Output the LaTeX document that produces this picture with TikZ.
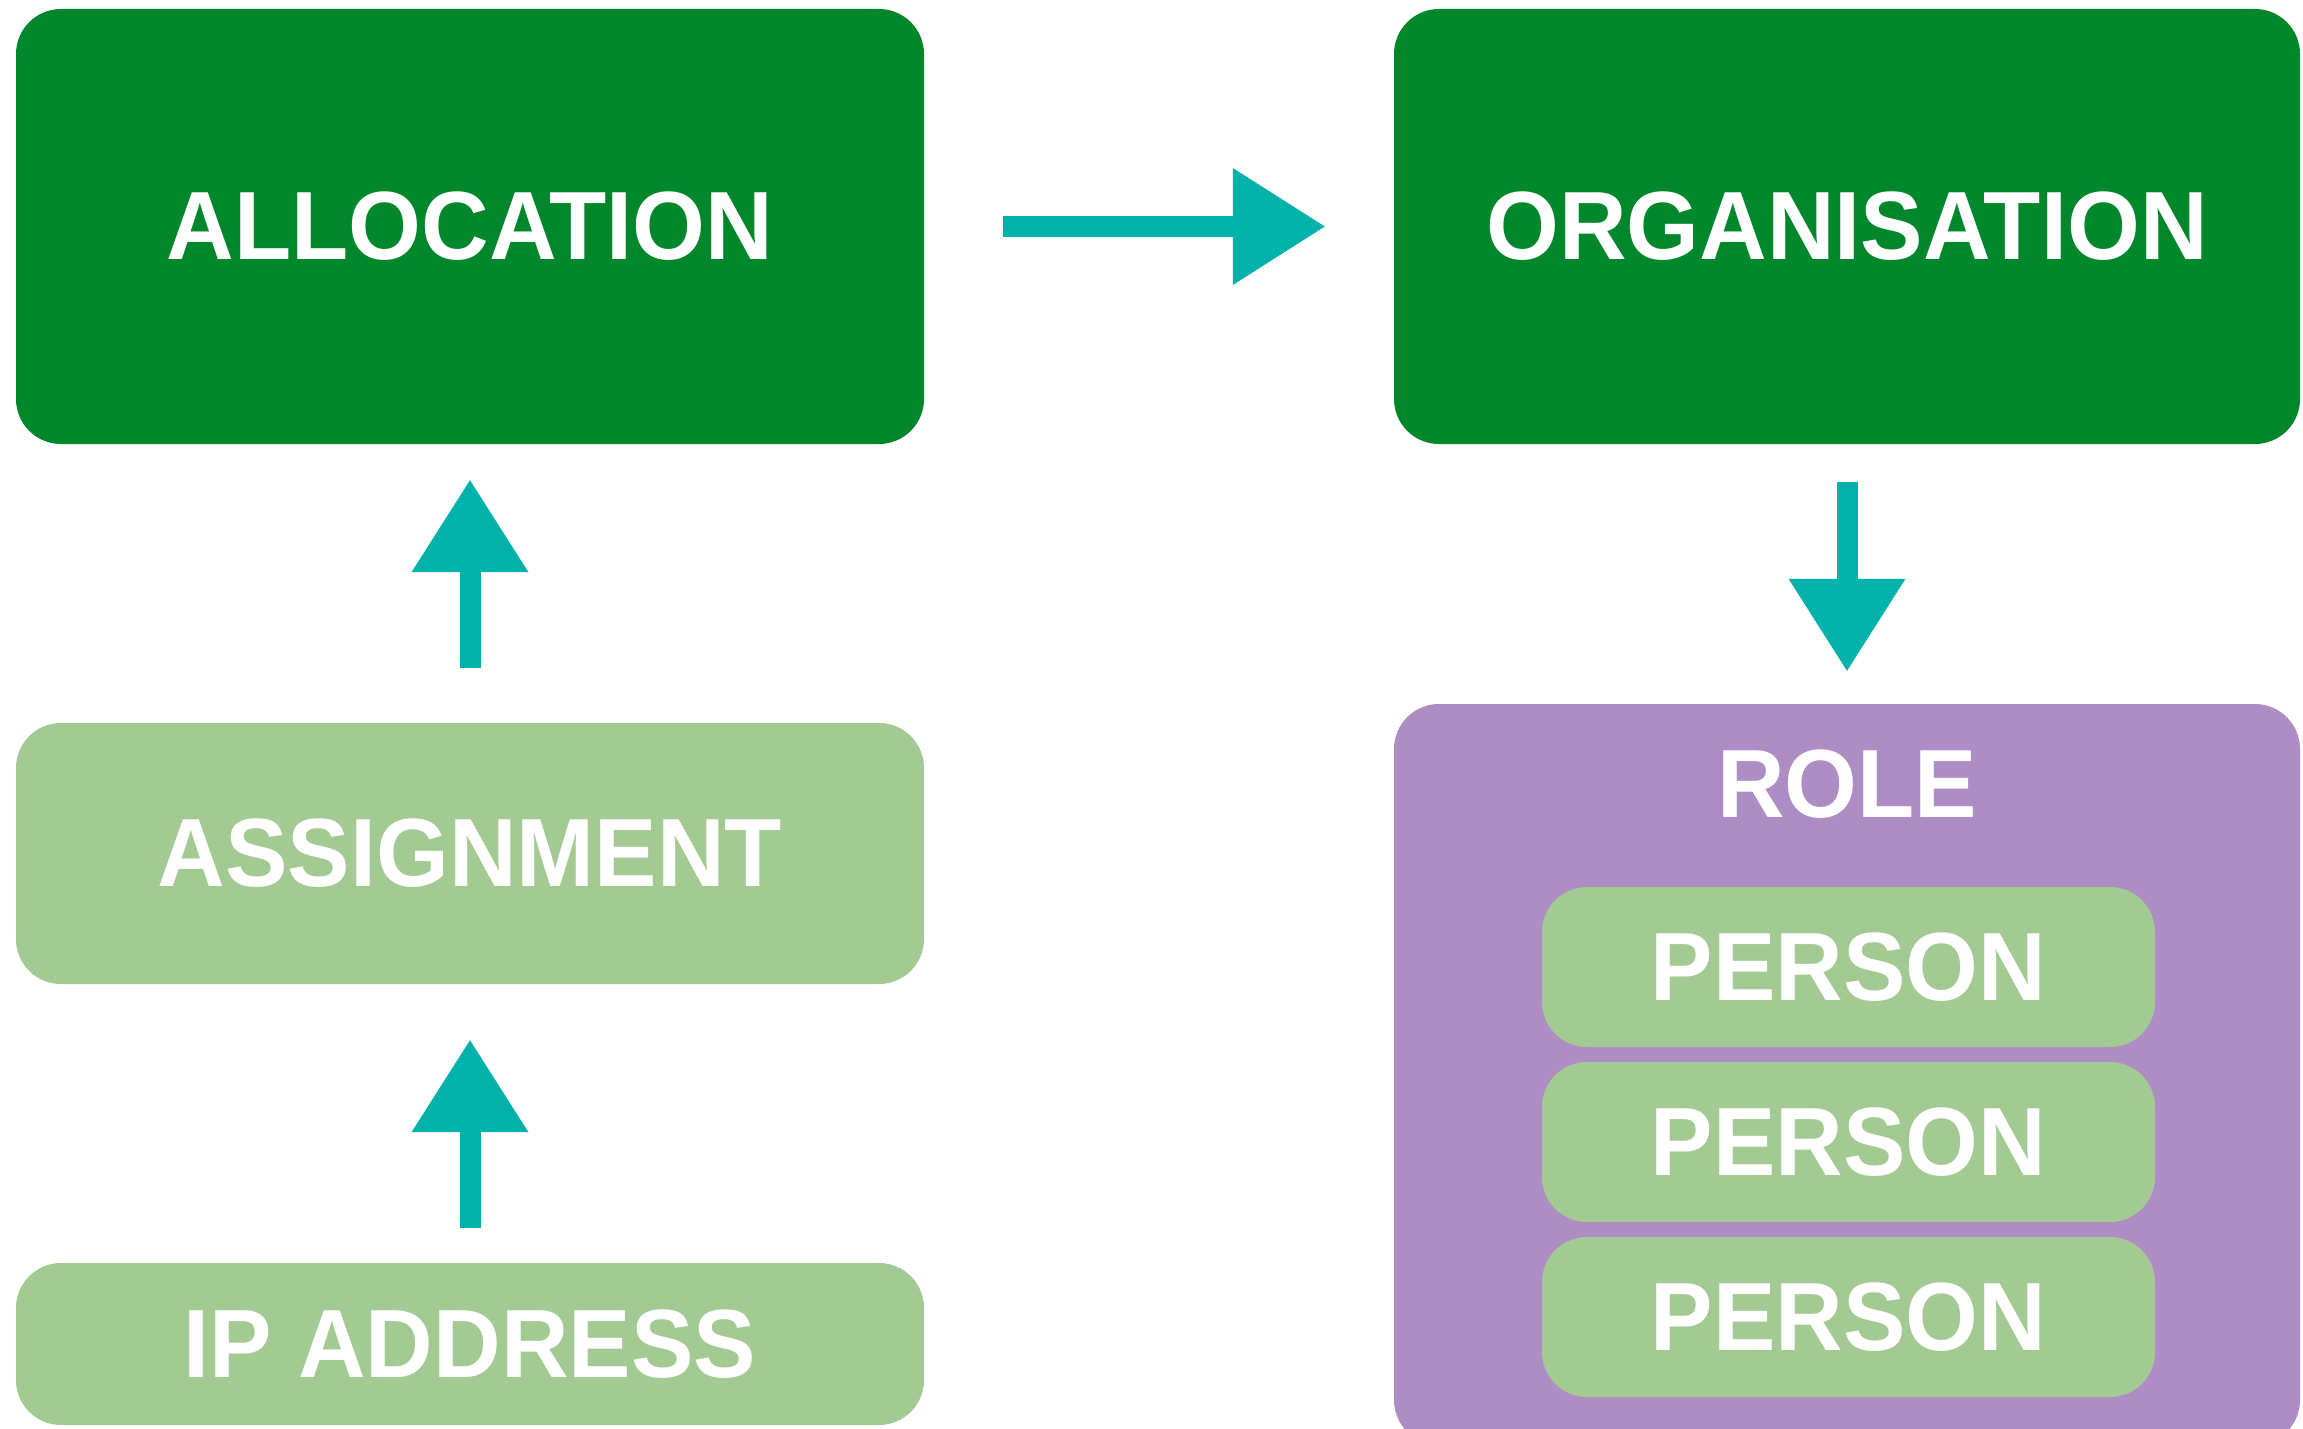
\documentclass[tikz,border=0pt]{standalone}
\usepackage{fontspec}
\newfontfamily\labfont{Liberation Sans}[FakeStretch=0.965]
\usetikzlibrary{arrows.meta}
\definecolor{darkgreen}{RGB}{0,134,43}
\definecolor{lightgreen}{RGB}{163,202,147}
\definecolor{rolepurple}{RGB}{173,141,196}
\definecolor{chalkteal}{RGB}{0,178,169}
\tikzset{
  box/.style={rectangle, rounded corners=45pt, draw=none, inner sep=0pt,
    text=white, font=\labfont\bfseries\fontsize{97}{97}\selectfont},
  bigbox/.style={box, fill=darkgreen, minimum width=908pt, minimum height=435pt},
  lightbox/.style={box, fill=lightgreen},
  personbox/.style={box, fill=lightgreen, minimum width=613pt, minimum height=160pt},
  chalkarrow/.style={draw=chalkteal, line width=21pt,
    -{Triangle[length=92pt, width=117pt, line width=0pt]}},
}
\begin{document}
\begin{tikzpicture}[x=1pt, y=-1pt]
\useasboundingbox (0,0) rectangle (2303,1429);
\clip (0,0) rectangle (2303,1429);
\fill[white] (0,0) rectangle (2303,1429);

% boxes
\node[bigbox] (alloc) at (470,226.5) {ALLOCATION};
\node[bigbox, minimum width=906pt] (org) at (1847,226.5) {ORGANISATION};
\node[lightbox, minimum width=908pt, minimum height=261pt] (assign) at (470,853.5) {ASSIGNMENT};
\node[lightbox, minimum width=908pt, minimum height=162pt] (ip) at (470,1344) {IP ADDRESS};

\node[box, fill=rolepurple, minimum width=906pt, minimum height=741pt] (role) at (1847,1074.5) {};
\node[box, anchor=center] (rolelabel) at (1847,784) {ROLE};
\node[personbox] (p1) at (1848.5,967) {PERSON};
\node[personbox] (p2) at (1848.5,1142) {PERSON};
\node[personbox] (p3) at (1848.5,1317) {PERSON};

% arrows
\draw[chalkarrow, shorten <=79pt, shorten >=69pt] (alloc.east) -- (org.west);
\draw[chalkarrow, shorten <=55pt, shorten >=36pt] (assign.north) -- (alloc.south);
\draw[chalkarrow, shorten <=35pt, shorten >=56pt] (ip.north) -- (assign.south);
\draw[chalkarrow, shorten <=38pt, shorten >=33pt] (org.south) -- (role.north);
\end{tikzpicture}
\end{document}
